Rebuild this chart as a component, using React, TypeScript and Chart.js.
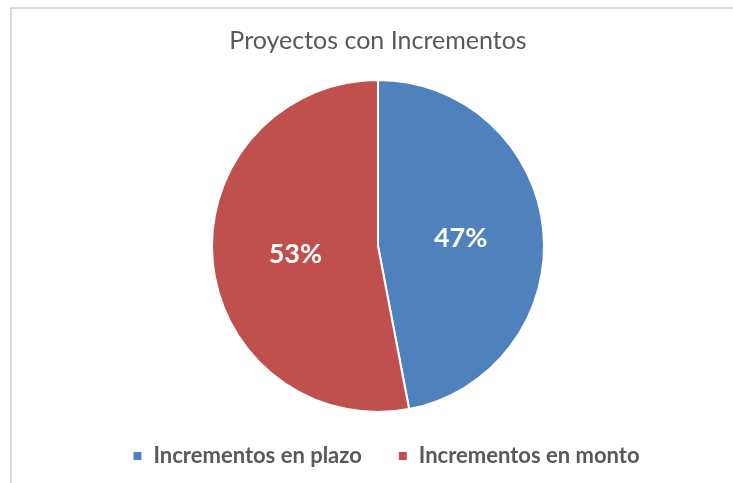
import React, { useEffect, useRef } from "react";
import { Chart, registerables } from "chart.js";

Chart.register(...registerables);

const categories = ["Incrementos en plazo", "Incrementos en monto"];
const values = [47, 53];
const colors = ["#4F81BD", "#C0504D"];
const titleText = "Proyectos con Incrementos";

const labelPlugin = {
  id: "sliceLabels",
  afterDatasetsDraw(chart: any) {
    const meta = chart.getDatasetMeta(0);
    const ctx = chart.ctx;
    const total = values.reduce((a, b) => a + b, 0);
    ctx.save();
    ctx.fillStyle = "#FFFFFF";
    ctx.font = "bold 27px Lato";
    ctx.textAlign = "center";
    ctx.textBaseline = "middle";
    meta.data.forEach((arc: any, i: number) => {
      const { startAngle, endAngle, outerRadius, x, y } = arc.getProps(
        ["startAngle", "endAngle", "outerRadius", "x", "y"],
        true
      );
      const mid = (startAngle + endAngle) / 2;
      const r = outerRadius * 0.5;
      const pct = Math.round((values[i] / total) * 100) + "%";
      ctx.fillText(pct, x + Math.cos(mid) * r, y + Math.sin(mid) * r);
    });
    ctx.restore();
  },
};

// nudges the centred legend row right to offset the trailing item padding
const legendShift = {
  id: "legendShift",
  afterLayout(chart: any) {
    const lg = chart.legend;
    if (lg) {
      lg.left += 8;
      lg.right += 8;
    }
  },
};

export default function App() {
  const ref = useRef<HTMLCanvasElement | null>(null);
  useEffect(() => {
    document.body.style.margin = "0";
    if (!ref.current) return;
    const chart = new Chart(ref.current, {
      type: "pie",
      data: {
        labels: categories,
        datasets: [
          {
            data: values,
            backgroundColor: colors,
            borderColor: "#FFFFFF",
            borderWidth: 2,
          },
        ],
      },
      options: {
        animation: false,
        responsive: false,
        radius: 166,
        layout: { padding: { left: 23, right: 0, top: 0, bottom: 6 } },
        plugins: {
          tooltip: { enabled: false },
          title: {
            display: true,
            text: titleText,
            color: "#595959",
            font: { family: "Lato", size: 25, weight: "normal" },
            padding: { top: 26, bottom: 27 },
          },
          legend: {
            position: "bottom",
            labels: {
              color: "#595959",
              font: { family: "Lato", size: 22, weight: "bold" },
              boxWidth: 10,
              boxHeight: 10,
              padding: 36,
            },
          },
        },
      },
      plugins: [labelPlugin, legendShift],
    });
    return () => chart.destroy();
  }, []);
  return (
    <div
      style={{
        position: "fixed",
        left: 0,
        top: 0,
        width: 733,
        height: 483,
        background: "#FFFFFF",
        overflow: "hidden",
      }}
    >
      <div
        style={{
          position: "absolute",
          left: 10,
          top: 7,
          width: 740,
          height: 490,
          border: "2px solid #D9D9D9",
          boxSizing: "border-box",
        }}
      />
      <canvas
        ref={ref}
        width={733}
        height={483}
        style={{ position: "absolute", left: 0, top: 0, width: 733, height: 483 }}
      />
    </div>
  );
}
